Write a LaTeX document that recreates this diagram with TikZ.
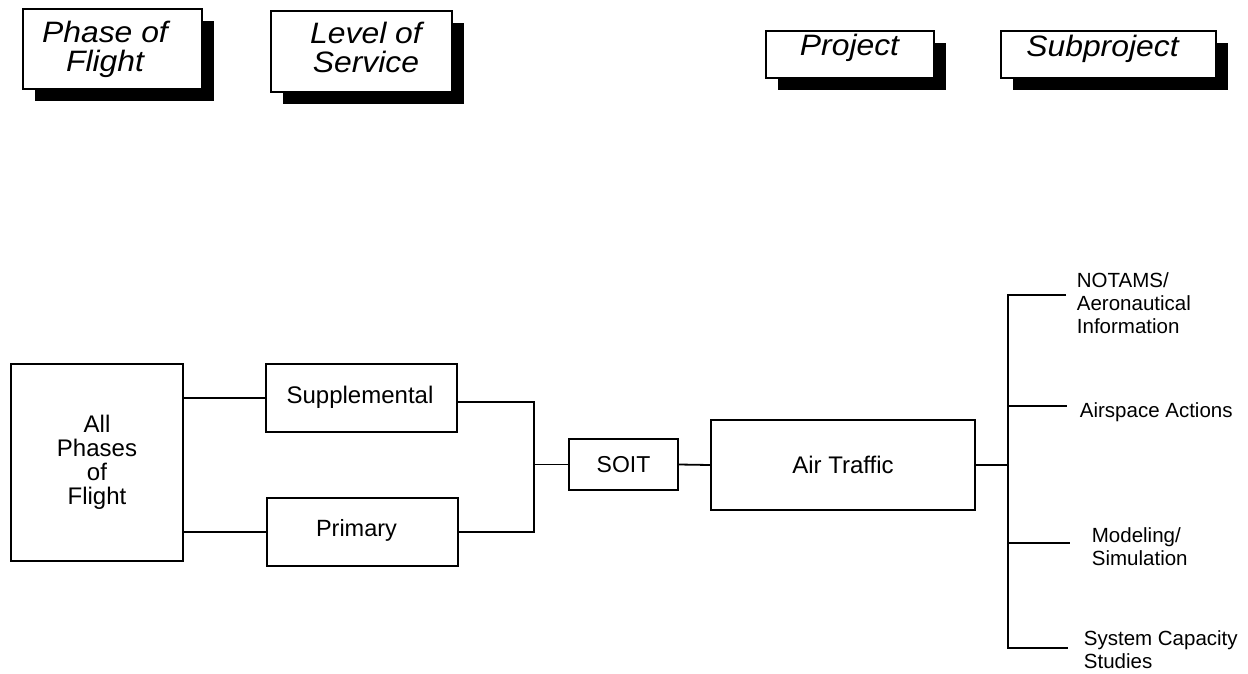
\documentclass[tikz,border=0pt]{standalone}
\usepackage{fontspec}
\setmainfont{Liberation Sans}
\newfontfamily\headfont{Liberation Sans}[FakeStretch=1.08]
\usetikzlibrary{shadows}
\begin{document}
\begin{tikzpicture}[x=1pt,y=-1pt,
  line width=1.8pt,
  headbox/.style={draw, fill=white, inner sep=0pt, minimum width=#1,
    general shadow={fill=black, shadow xshift=12pt, shadow yshift=-12pt}},
  headtext/.style={inner sep=0pt, align=center,
    font=\headfont\itshape\fontsize{29.5}{28.5}\selectfont},
  unitbox/.style={draw, fill=white, inner sep=0pt, align=center,
    font=\fontsize{24}{24}\selectfont},
  leaf/.style={inner sep=0pt, align=left,
    font=\fontsize{20.5}{23}\selectfont}]
\useasboundingbox (0,0) rectangle (1248,673);

% column headings with drop shadows
\node[headbox=179pt, minimum height=80pt] (phase)   at (112.5,49)  {};
\node[headbox=181pt, minimum height=81pt] (level)   at (361.5,51.5){};
\node[headbox=168pt, minimum height=47pt] (project) at (850,54.5)  {};
\node[headbox=215pt, minimum height=47pt] (subproj) at (1108.5,54.5){};
\node[headtext] (phaseT) at (105,49.4) {Phase of\\Flight};
\node[headtext] (levelT) at (366,47.5) {Level of\\Service};
\node[headtext, anchor=base] (projectT) at (849.5,55) {Project};
\node[headtext, anchor=base] (subprojT) at (1102.5,56) {Subproject};

% hierarchy boxes
\node[unitbox, minimum width=172pt, minimum height=197pt] (allph) at (97,462.5)
  {All\\Phases\\of\\Flight};
\node[unitbox, minimum width=191pt, minimum height=68pt] (supp) at (361.5,398) {};
\node[unitbox, minimum width=191pt, minimum height=68pt] (prim) at (362.5,532) {};
\node[inner sep=0pt, font=\fontsize{24}{24}\selectfont, anchor=base] (suppT) at (360,403) {Supplemental};
\node[inner sep=0pt, font=\fontsize{23.5}{24}\selectfont, anchor=base] (primT) at (356.5,536) {Primary};
\node[unitbox, minimum width=109pt, minimum height=51pt, font=\fontsize{23}{24}\selectfont] (soit) at (623.5,464.5) {SOIT};
\node[unitbox, minimum width=264pt, minimum height=90pt] (air) at (843,465) {Air Traffic};

% junctions
\coordinate (J) at (534,463);
\coordinate (bartop) at (1008,295);
\coordinate (barbot) at (1008,648);
\coordinate (n1) at (1066,295);
\coordinate (n2) at (1067,406);
\coordinate (n3) at (1070,543);
\coordinate (n4) at (1068,648);

% connectors
\draw (allph.east |- supp.west) -- (supp.west);
\draw (allph.east |- prim.west) -- (prim.west);
\draw ([yshift=-4pt]supp.east) -- ([yshift=-4pt]supp.east -| J)
      -- (prim.east -| J) -- (prim.east);
\draw (soit.west -| J) -- (soit.west);
\draw (soit.east) -- (air.west);
\draw (air.east) -- (air.east -| bartop);
\draw (n1) -- (bartop) -- (barbot) -- (n4);
\draw (n2 -| bartop) -- (n2);
\draw (n3 -| bartop) -- (n3);

% subproject labels
\node[leaf, anchor=west] (notams) at (1076,303.5) {NOTAMS/\\Aeronautical\\Information};
\node[leaf, anchor=base west] (airsp) at (1079,417) {Airspace Actions};
\node[leaf, anchor=west] (model) at (1091,547) {Modeling/\\Simulation};
\node[leaf, anchor=west] (syscap) at (1083,650) {System Capacity\\Studies};
\end{tikzpicture}
\end{document}
